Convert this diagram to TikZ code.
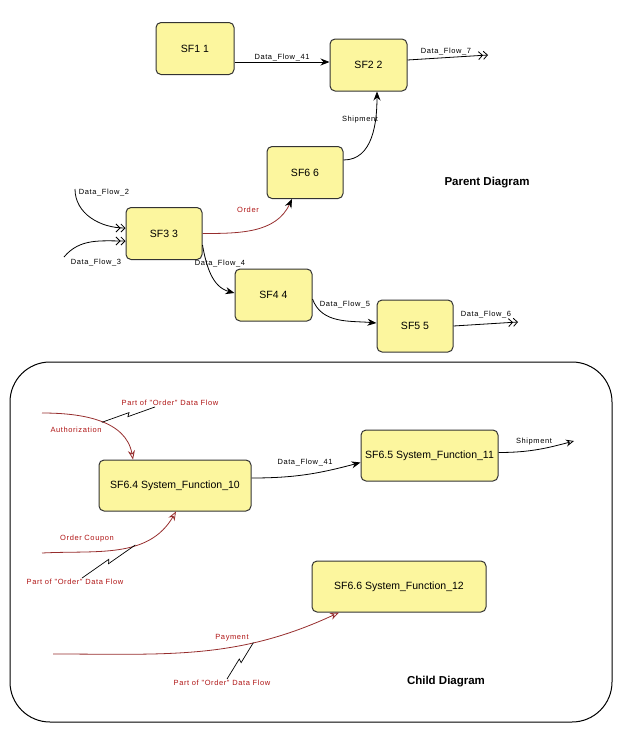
\documentclass[tikz,border=0pt]{standalone}
\usepackage{fontspec}
\setmainfont{Liberation Sans}
\newfontfamily\flowfont[LetterSpace=8]{Liberation Sans}
\usetikzlibrary{arrows.meta, calc}
\definecolor{sfyellow}{RGB}{252,246,158}
\definecolor{flowred}{RGB}{150,45,45}
\definecolor{textred}{RGB}{175,20,20}

\begin{document}
\begin{tikzpicture}[
  x=1pt, y=-1pt,
  sf/.style={rectangle, draw=black!80, line width=1pt, rounded corners=5pt, fill=sfyellow, font=\fontsize{10.5}{12}\selectfont, minimum height=52pt},
  lbl/.style={font=\flowfont\fontsize{7.5}{9}\selectfont, inner sep=1pt},
  redlbl/.style={lbl, text=textred},
  title/.style={font=\fontsize{11.5}{13}\selectfont\bfseries},
  flow/.style={draw, line width=0.8pt, -{Stealth[length=9pt,width=7pt]}},
  dbl/.style={draw, line width=0.8pt, -{Straight Barb[length=4pt,width=8pt]Straight Barb[length=4pt,width=8pt]}},
  opn/.style={draw, line width=0.8pt, -{Stealth[open,length=8pt,width=7pt]}},
  redflow/.style={draw=flowred, line width=0.8pt, -{Stealth[open,length=9pt,width=7pt]}},
  bolt/.style={draw, line width=0.7pt, to path={-- ($(\tikztostart)!0.52!(\tikztotarget)!1.8pt!90:(\tikztotarget)$) -- ($(\tikztostart)!0.48!(\tikztotarget)!1.8pt!-90:(\tikztotarget)$) -- (\tikztotarget)}}
]
  \useasboundingbox (0,0) rectangle (624,755);

  % Parent nodes
  \node[sf, minimum width=78pt] (sf1) at (195,48.5) {SF1 1};
  \node[sf, minimum width=77pt] (sf2) at (368.5,65) {SF2 2};
  \node[sf, minimum width=76pt] (sf6) at (305,172.5) {SF6 6};
  \node[sf, minimum width=76pt] (sf3) at (164,233.5) {SF3 3};
  \node[sf, minimum width=77pt] (sf4) at (273.5,295) {SF4 4};
  \node[sf, minimum width=76pt] (sf5) at (415,326) {SF5 5};
  \node[title] (parent) at (487,183) {Parent Diagram};

  \coordinate (df7) at (488,55);
  \coordinate (df2) at (75,189);
  \coordinate (df3) at (64,257);
  \coordinate (df6) at (518,322);

  % Parent flows
  \draw[flow] ([yshift=-13.5pt]sf1.east) -- node[lbl, above] {Data\_Flow\_41} ([yshift=3pt]sf2.west);
  \draw[dbl] ([yshift=5pt]sf2.east) -- (df7);
  \node[lbl] at (446,52) {Data\_Flow\_7};
  \draw[flow] ([yshift=12.5pt]sf6.east) to[out=0, in=-90] ([xshift=8.5pt]sf2.south);
  \node[lbl] at (360,120) {Shipment};
  \draw[draw=flowred, line width=0.8pt, -{Stealth[length=9pt,width=7pt,color=black]}] (sf3.east) to[out=0, in=-115] ([xshift=-13pt]sf6.south);
  \node[redlbl] at (248,210) {Order};
  \draw[dbl] (df2) to[out=-90, in=180] ([yshift=5.5pt]sf3.west);
  \node[lbl] at (104,193) {Data\_Flow\_2};
  \draw[dbl] (df3) to[out=50, in=180] ([yshift=-7.5pt]sf3.west);
  \node[lbl] at (96,263) {Data\_Flow\_3};
  \draw[flow] ([yshift=-11.5pt]sf3.east) to[out=-80, in=165] ([yshift=2pt]sf4.west);
  \node[lbl] at (220,264) {Data\_Flow\_4};
  \draw[flow] ([yshift=-4pt]sf4.east) to[out=-70, in=175] ([yshift=3pt]sf5.west);
  \node[lbl] at (345,305) {Data\_Flow\_5};
  \draw[dbl] (sf5.east) -- (df6);
  \node[lbl] at (486,315) {Data\_Flow\_6};

  % Child diagram
  \node[draw, line width=1pt, rounded corners=40pt, minimum width=602pt, minimum height=360pt] (child) at (311,542) {};
  \node[sf, minimum width=152pt, minimum height=51pt] (sf64) at (175,485.5) {SF6.4 System\_Function\_10};
  \node[sf, minimum width=137pt, minimum height=51pt] (sf65) at (429.5,455.5) {SF6.5 System\_Function\_11};
  \node[sf, minimum width=174pt, minimum height=51pt] (sf66) at (399,586.5) {SF6.6 System\_Function\_12};
  \node[title] (childttl) at (446,682) {Child Diagram};

  \coordinate (auth) at (42,413);
  \coordinate (coup) at (42,553);
  \coordinate (pay) at (53,654);
  \coordinate (shp) at (574,441);

  % Child flows
  \draw[flow] ([yshift=7.5pt]sf64.east) to[out=0, in=195] ([yshift=-7pt]sf65.west);
  \node[lbl] at (305,463) {Data\_Flow\_41};
  \draw[opn] ([yshift=3pt]sf65.east) to[out=0, in=195] (shp);
  \node[lbl] at (534,442) {Shipment};
  \draw[redflow] (auth) to[out=0, in=100] coordinate[pos=0.52] (authmid) ([xshift=-42pt]sf64.north);
  \node[redlbl] at (76,430) {Authorization};
  \draw[redflow] (coup) to[out=3, in=-120] coordinate[pos=0.62] (coupmid) ([xshift=1pt]sf64.south);
  \node[redlbl] at (87,539) {Order Coupon};
  \draw[redflow] (pay) to[out=0, in=-155] coordinate[pos=0.7] (paymid) ([xshift=-60pt]sf66.south);
  \node[redlbl] at (232,638) {Payment};

  % Part of "Order"
  \node[redlbl] (part1) at (170,403) {Part of "Order" Data Flow};
  \node[redlbl] (part2) at (75,582) {Part of "Order" Data Flow};
  \node[redlbl] (part3) at (222,683) {Part of "Order" Data Flow};
  \draw[bolt] ([xshift=-15pt]part1.south) to (authmid);
  \draw[bolt] ([xshift=7pt]part2.north) to (coupmid);
  \draw[bolt] ([xshift=5pt]part3.north) to (paymid);
\end{tikzpicture}
\end{document}
